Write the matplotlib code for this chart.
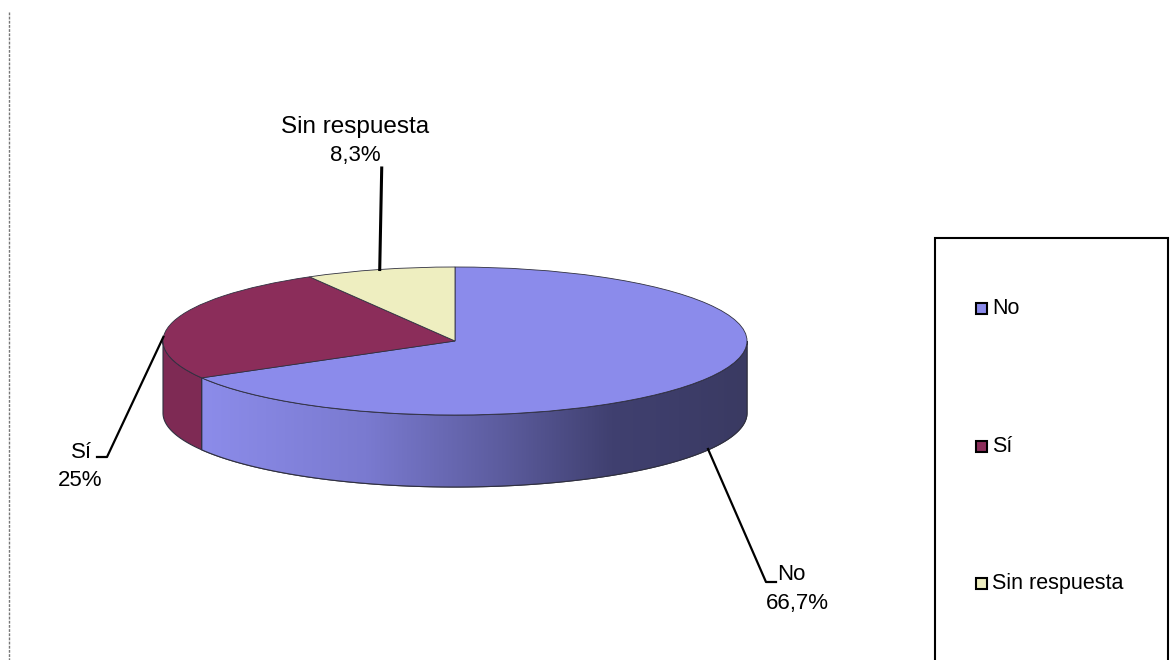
import numpy as np
import matplotlib
matplotlib.use("Agg")
import matplotlib.pyplot as plt
from matplotlib.patches import Wedge, Polygon, Rectangle
from matplotlib.transforms import Affine2D
from matplotlib.colors import LinearSegmentedColormap

categories = ["No", "Sí", "Sin respuesta"]
values = [66.7, 25.0, 8.3]
value_labels = ["66,7%", "25%", "8,3%"]
top_colors = ["#8B8BEB", "#8B2D5A", "#EEEEC0"]
side_colors = ["#8B8BEB", "#7E2A54", "#D8D8A8"]

plt.rcParams['font.family'] = ['Liberation Sans', 'DejaVu Sans']

W, H = 1171, 660
fig = plt.figure(figsize=(W / 100, H / 100), dpi=100)
ax = fig.add_axes([0, 0, 1, 1])
ax.set_xlim(0, W)
ax.set_ylim(H, 0)
ax.axis("off")

# pie geometry (pixel space)
cx, cy, a, b, depth = 455, 341, 292, 74, 72
edge = "#303040"

fracs = np.array(values) / np.sum(values)
starts = []
ends = []
cur = 90.0
for f in fracs:
    starts.append(cur - 360 * f)
    ends.append(cur)
    cur -= 360 * f


def ell(th_deg, dy=0.0):
    t = np.radians(th_deg)
    return cx + a * np.cos(t), cy - b * np.sin(t) + dy


# side walls (front visible: angles between 180 and 360)
for i in range(len(values)):
    t1, t2 = starts[i] % 360, ends[i] % 360
    if t2 <= t1:
        t2 += 360
    lo, hi = max(t1, 180), min(t2, 360)
    if hi <= lo:
        lo, hi = max(t1 - 360, 180), min(t2 - 360, 360)
    if hi <= lo:
        continue
    th = np.linspace(lo, hi, 200)
    xt, yt = ell(th)
    xb, yb = ell(th[::-1], depth)
    pts = np.column_stack([np.concatenate([xt, xb]), np.concatenate([yt, yb])])
    poly = Polygon(pts, closed=True, facecolor=side_colors[i], edgecolor=edge, lw=0.8, zorder=2)
    ax.add_patch(poly)
    if i == 0:
        cmap = LinearSegmentedColormap.from_list(
            "side", [(0.0, "#8C8CEA"), (0.3, "#7A7AD0"), (0.55, "#5C5C9E"),
                     (0.75, "#404070"), (1.0, "#3A3A62")])
        x0, x1 = pts[:, 0].min(), pts[:, 0].max()
        grad = np.linspace(0, 1, 256).reshape(1, -1)
        im = ax.imshow(grad, cmap=cmap, aspect="auto",
                       extent=[x0, x1, pts[:, 1].max(), pts[:, 1].min()], zorder=2.5)
        im.set_clip_path(poly)
        outline = Polygon(pts, closed=True, facecolor="none", edgecolor=edge, lw=0.8, zorder=3)
        ax.add_patch(outline)
        ax.set_xlim(0, W)
        ax.set_ylim(H, 0)

# top faces
tr = Affine2D().scale(a, -b).translate(cx, cy) + ax.transData
for i in range(len(values)):
    w = Wedge((0, 0), 1, starts[i], ends[i], facecolor=top_colors[i],
              edgecolor=edge, lw=0.6, transform=tr, zorder=4)
    ax.add_patch(w)

# labels and leader lines
fs = 16
# Sin respuesta
mid = (starts[2] + ends[2]) / 2
px, py = ell(mid)
ax.plot([px, px + 2], [py, 168], color="black", lw=2.2, zorder=5)
ax.text(355, 127, categories[2], ha="center", va="center", fontsize=17.5)
ax.text(355, 156, value_labels[2], ha="center", va="center", fontsize=fs)

# Sí
px, py = ell(183)
ax.plot([px, 107, 97], [py - 8, 457, 457], color="black", lw=1.6, zorder=5)
ax.text(92, 452, categories[1], ha="right", va="center", fontsize=fs)
ax.text(80, 480, value_labels[1], ha="center", va="center", fontsize=fs)

# No
ax.plot([708, 766, 776], [449, 582, 582], color="black", lw=1.6, zorder=5)
ax.text(777, 575, categories[0], ha="left", va="center", fontsize=fs)
ax.text(797, 603, value_labels[0], ha="center", va="center", fontsize=fs)

# legend box
ax.add_patch(Rectangle((935, 238), 233, 440, facecolor="white", edgecolor="black", lw=1.5, zorder=5))
leg_y = [308, 446, 583]
for i, yv in enumerate(leg_y):
    ax.add_patch(Rectangle((976, yv - 5), 11, 11, facecolor=top_colors[i], edgecolor="black", lw=1.5, zorder=6))
    ax.text(992, yv + 1, categories[i], ha="left", va="center", fontsize=15.5, zorder=6)

# left dashed frame line
ax.plot([9, 9], [12, H], color="#777777", lw=1, ls=(0, (2, 1)))

fig.savefig("out.png", dpi=100)
